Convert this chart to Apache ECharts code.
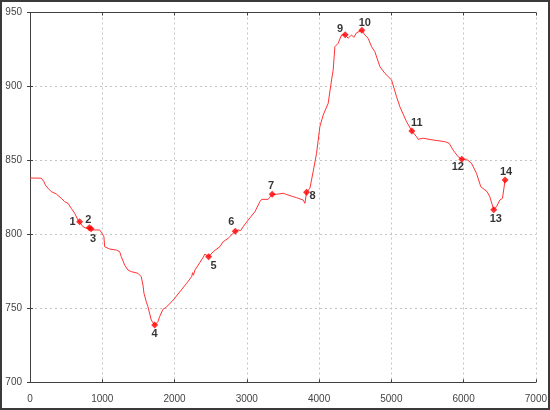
<!DOCTYPE html>
<html>
<head>
<meta charset="utf-8">
<script src="https://cdn.jsdelivr.net/npm/echarts@6/dist/echarts.min.js"></script>
<style>
html,body{margin:0;padding:0;background:#fff;}
#wrap{width:550px;height:410px;position:relative;}
#chart{position:absolute;left:0;top:0;width:550px;height:410px;}
#frame{position:absolute;left:0;top:0;width:550px;height:410px;box-sizing:border-box;border:2px solid #3a3a3a;pointer-events:none;z-index:10;}
</style>
</head>
<body>
<div id="wrap"><div id="chart"></div><div id="frame"></div></div>
<script>
// Profile (distance, elevation)
const distance = [0,156,194,212,249,295,364,433,480,526,571,618,664,687,733,779,820,845,871,964,996,1023,1033,1102,1194,1241,1263,1310,1355,1401,1425,1494,1539,1563,1577,1609,1632,1678,1725,1770,1794,1840,1885,1982,2075,2167,2237,2250,2262,2282,2328,2397,2420,2472,2535,2628,2674,2697,2743,2840,2881,2914,2950,3019,3112,3181,3205,3296,3351,3412,3503,3572,3689,3780,3804,3827,3873,3918,3965,4011,4057,4126,4173,4195,4219,4264,4311,4361,4402,4449,4481,4519,4592,4633,4679,4726,4772,4841,4910,5003,5025,5072,5118,5210,5284,5349,5371,5440,5578,5740,5800,5855,5924,5975,6040,6109,6178,6238,6325,6362,6417,6455,6501,6538,6574];
const elevation = [838.1,838,835.6,833.4,831.2,828.9,827.3,824.4,822.1,821,817.6,814.3,809.7,808.6,805.2,804.1,804.5,803.8,803,803,800.7,798.4,791.7,790.1,789.4,788.3,784.9,779.3,775.9,774.8,775.3,773.7,771.4,765.8,760.2,754.5,751.1,742.1,738.7,741,744.4,749.4,750.7,755.6,761.3,766.9,771.4,774.1,772.4,775.9,779.3,784.5,786.7,784.9,788.3,791.7,795.1,794,797.4,802.1,803,802.5,805.2,809.7,815.3,822.1,823.7,823.7,827.1,827.1,827.8,826.6,824.8,823.2,821,828.5,831.2,842.4,854.8,872.8,880.7,888.6,904.4,911.1,926.9,929.2,934.8,935,932.6,934.8,933.2,936.3,938,934.8,932.6,926.9,923.5,913.4,908.9,904.4,903.2,893.1,886.3,876.2,869.9,866,864.3,865,863.8,862.7,861.6,857,852.5,850.8,850.8,848.1,841.3,832.2,828.9,825.5,816.7,818.7,823.2,824.4,836.8];

// Numbered waypoints
const waypointNames = ['1','2','3','4','5','6','7','8','9','10','11','12','13','14'];
const waypointDistance = [687,820,845,1725,2472,2840,3351,3827,4361,4592,5284,5975,6417,6574];
const waypointElevation = [808.6,804.5,803.8,738.7,784.9,802.1,827.1,828.5,935,938,869.9,850.8,816.7,836.8];

// Axis ticks
const xTicks = [0,1000,2000,3000,4000,5000,6000,7000];
const yTicks = [700,750,800,850,900,950];

// label placement (style only)
const labelOffsets = {
  '1':[-7,0],'2':[-1,-8],'3':[2,10],'4':[0,9],'5':[5,9],'6':[-4,-9],'7':[-1,-8],
  '8':[6,4],'9':[-5,-6],'10':[3,-7],'11':[5,-8],'12':[-4,8],'13':[2,9],'14':[1,-8]
};

const chart = echarts.init(document.getElementById('chart'), null, {renderer:'canvas'});
const lineData = distance.map((d,i)=>[d, elevation[i]]);
const pointData = waypointNames.map((n,i)=>({
  name:n, value:[waypointDistance[i], waypointElevation[i]],
  label:{show:true, position:'inside', offset:labelOffsets[n], formatter:n}
}));

const axisLine = {show:true, lineStyle:{color:'#404040', width:1}};
const tickStyle = {show:true, inside:true, length:3, lineStyle:{color:'#404040'}};
const split = {show:true, lineStyle:{color:'#c4c4c4', type:[2,3], width:1}};
const lblStyle = {color:'#444', fontFamily:'Liberation Sans, Arial, sans-serif', fontSize:10, formatter:v=>String(v)};

chart.setOption({
  animation:false,
  backgroundColor:'#fff',
  grid:{left:30, right:13.5, top:12.5, bottom:27.7, containLabel:false},
  xAxis:[
    {type:'value', min:xTicks[0], max:xTicks[xTicks.length-1], interval:xTicks[1]-xTicks[0],
     axisLine:axisLine, axisTick:tickStyle, splitLine:split,
     axisLabel:Object.assign({margin:12}, lblStyle)},
    {type:'value', position:'top', min:xTicks[0], max:xTicks[xTicks.length-1], interval:xTicks[1]-xTicks[0],
     axisLine:axisLine, axisTick:tickStyle, splitLine:{show:false}, axisLabel:{show:false}}
  ],
  yAxis:[
    {type:'value', min:yTicks[0], max:yTicks[yTicks.length-1], interval:yTicks[1]-yTicks[0],
     axisLine:axisLine, axisTick:tickStyle, splitLine:split,
     axisLabel:Object.assign({margin:8}, lblStyle)},
    {type:'value', position:'right', min:yTicks[0], max:yTicks[yTicks.length-1], interval:yTicks[1]-yTicks[0],
     axisLine:axisLine, axisTick:tickStyle, splitLine:{show:false}, axisLabel:{show:false}}
  ],
  series:[
    {type:'line', data:lineData, showSymbol:false, symbol:'none',
     lineStyle:{color:'#ff3333', width:1}, z:2},
    {type:'scatter', data:pointData, symbol:'diamond', symbolSize:7,
     itemStyle:{color:'#ff0000'}, z:3,
     label:{color:'#000', fontWeight:'bold', fontSize:11, fontFamily:'Liberation Sans, Arial, sans-serif'}}
  ]
});
</script>
</body>
</html>
